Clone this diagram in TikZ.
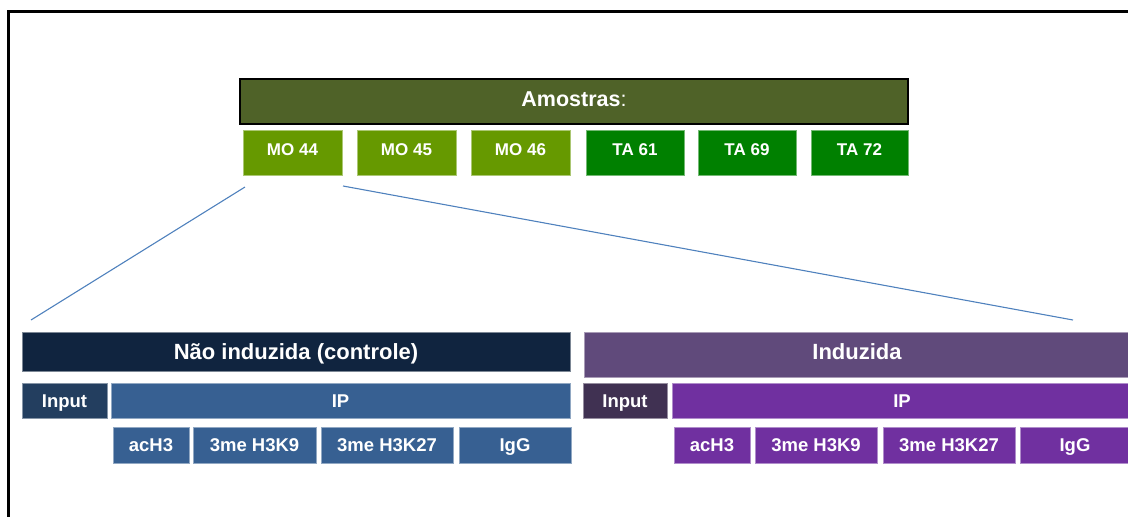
\documentclass[tikz,border=0pt]{standalone}
\usepackage{fontspec}
\setmainfont{Liberation Sans}
\usetikzlibrary{positioning}

\definecolor{oliveHead}{RGB}{79,98,40}
\definecolor{moGreen}{RGB}{102,153,0}
\definecolor{taGreen}{RGB}{0,128,0}
\definecolor{linkBlue}{RGB}{79,129,189}
\definecolor{navyHead}{RGB}{16,36,63}
\definecolor{navyInput}{RGB}{35,62,95}
\definecolor{steelBlue}{RGB}{55,96,146}
\definecolor{plumHead}{RGB}{96,74,123}
\definecolor{plumInput}{RGB}{64,49,82}
\definecolor{violetCell}{RGB}{112,48,160}

\tikzset{every picture/.style={line width=0.75pt}}
\tikzset{
  cell/.style={rectangle, inner sep=0pt, text=white, line width=0.75pt},
  headfont/.style={font=\fontsize{22}{24}\selectfont\bfseries, text height=15.75pt, text depth=0pt},
  cellfont/.style={font=\fontsize{18.5}{20}\selectfont\bfseries, text height=13.2pt, text depth=0pt},
  samplecell/.style={cell, minimum height=45, font=\fontsize{17}{20}\selectfont\bfseries, text height=12.2pt, text depth=7pt},
  mocell/.style={samplecell, fill=moGreen, draw=moGreen!55!white},
  tacell/.style={samplecell, fill=taGreen, draw=taGreen!55!white},
  bluecell/.style={cell, cellfont, fill=steelBlue, draw=steelBlue!55!white},
  violetcell/.style={cell, cellfont, fill=violetCell, draw=violetCell!55!white},
  zoomline/.style={draw=linkBlue, line width=1.1pt}
}

\begin{document}
\begin{tikzpicture}[x=1pt,y=1pt,yscale=-1,xscale=1]
\useasboundingbox (0,0) rectangle (1128,517);
\clip (0,0) rectangle (1128,517);

%Frame
\draw [line width=3pt] (8.5,540) -- (8.5,11.5) -- (1150,11.5) ;

% Samples header
\node [cell, fill=oliveHead, draw=black, line width=1.5pt, minimum width=668, minimum height=45, font=\fontsize{21.5}{24}\selectfont, text height=15.4pt, text depth=6.4pt] (amostras) at (574,101.5) {\textbf{Amostras}:};

% Sample cells
\node [mocell, minimum width=99] (mo44) at (292.5,152.5) {MO 44};
\node [mocell, minimum width=99] (mo45) at (406.5,152.5) {MO 45};
\node [mocell, minimum width=99] (mo46) at (520.5,152.5) {MO 46};
\node [tacell, minimum width=98] (ta61) at (635,152.5) {TA 61};
\node [tacell, minimum width=98] (ta69) at (747,152.5) {TA 69};
\node [tacell, minimum width=97] (ta72) at (859.5,152.5) {TA 72};

% Zoom ends
\coordinate (zoomL) at (245,187);
\coordinate (zoomR) at (343,186);
\coordinate (leftEnd) at (31,320);
\coordinate (rightEnd) at (1073,320);

%Straight Lines
\draw [zoomline] (zoomL) -- (leftEnd) ;
%Straight Lines
\draw [zoomline] (zoomR) -- (rightEnd) ;

% Non induced block
\node [cell, headfont, fill=navyHead, draw=navyHead!55!white, minimum width=548, minimum height=39] (naoInd) at (296,351.5) {Não induzida (controle)};
\node [cell, cellfont, fill=navyInput, draw=navyInput!55!white, minimum width=85, minimum height=35] (inputL) at (64.5,400.5) {Input};
\node [bluecell, minimum width=459, minimum height=35] (ipL) at (340.5,400.5) {IP};
\node [bluecell, minimum width=76, minimum height=36] (ach3L) at (151,445) {acH3};
\node [bluecell, minimum width=123, minimum height=36] (kNineL) at (254.5,445) {3me H3K9};
\node [bluecell, minimum width=132, minimum height=36] (kTwentySevenL) at (387,445) {3me H3K27};
\node [bluecell, minimum width=112, minimum height=36] (iggL) at (515,445) {IgG};

% Induced block
\node [cell, headfont, fill=plumHead, draw=plumHead!55!white, minimum width=546, minimum height=45, text depth=5pt] (induzida) at (857,354.5) {Induzida};
\node [cell, cellfont, fill=plumInput, draw=plumInput!55!white, minimum width=84, minimum height=35] (inputR) at (625,400.5) {Input};
\node [violetcell, minimum width=460, minimum height=35] (ipR) at (902,400.5) {IP};
\node [violetcell, minimum width=76, minimum height=36] (ach3R) at (712,445) {acH3};
\node [violetcell, minimum width=122, minimum height=36] (kNineR) at (816,445) {3me H3K9};
\node [violetcell, minimum width=132, minimum height=36] (kTwentySevenR) at (949,445) {3me H3K27};
\node [violetcell, minimum width=110, minimum height=36] (iggR) at (1075,445) {IgG};

\end{tikzpicture}
\end{document}
